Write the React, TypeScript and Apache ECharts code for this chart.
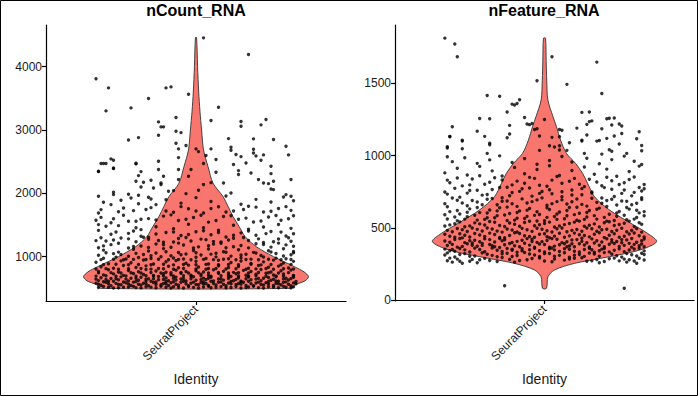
import React, { useEffect, useRef } from 'react';
import * as echarts from 'echarts';

const panelTitles = ['nCount_RNA', 'nFeature_RNA'];
const categoryName = 'SeuratProject';
const xTitle = 'Identity';
const countTicks = [1000, 2000, 3000, 4000];
const featureTicks = [0, 500, 1000, 1500];

// violin outlines: value levels and relative half-width (1 = widest)
const countLevels = [500, 553, 620, 684, 760, 842, 1000, 1158, 1316, 1474, 1632, 1790, 1947, 2159, 2421, 2685, 3000, 3300, 3600, 4000, 4460];
const countWidths = [0.85, 0.88, 0.97, 1.0, 0.96, 0.875, 0.69, 0.536, 0.437, 0.384, 0.33, 0.286, 0.241, 0.152, 0.107, 0.067, 0.05, 0.035, 0.024, 0.014, 0.005];
const featureLevels = [81, 161, 208, 254, 300, 346, 404, 461, 531, 623, 715, 808, 877, 946, 1015, 1108, 1200, 1269, 1385, 1522, 1650, 1813];
const featureWidths = [0.018, 0.031, 0.09, 0.27, 0.58, 0.85, 1.0, 0.92, 0.77, 0.58, 0.446, 0.384, 0.34, 0.277, 0.196, 0.143, 0.107, 0.076, 0.03, 0.02, 0.015, 0.009];

// jittered cells: pairs of [x offset in hundredths of a category, value]
const countPoints = [
  3,4455, 21,4192, -40,3808, -35,3665, -12,3665, -10,3681, -19,3496, -3,3564, -36,3302, -26,3349, 9,3359, -8,3196, 6,3149, 18,3133, 18,3059, 28,3165, 26,3081, -15,3128, -14,3049, -13,3049, -8,2980, -6,2959, -15,2917, -27,2843, -23,2880, 13,2864, 23,2860, 31,2849, -8,2790, -4,2754, -7,2702, 0,2702, 1,2659, 6,2702, 14,2727, 14,2680, 23,2695, 36,2743, 37,2607, -7,2564, 4,2596, 16,2612, 18,2580, 24,2591, 27,2607, -34,2544, 8,2533,
  -38,2470, -37,2470, -36,2470, -39,2343, -33,2522, -33,2390, -33,2016, -24,2474, -22,2343, -23,2280, -24,2190, -22,2101, -18,2206, -17,2085, -15,2506, -15,2375, -13,2269, -14,2164, 15,2454, 17,2359, 17,2296, 20,2480, 22,2322, 25,2217, 27,2164, 29,2153, 30,2427, 30,2311, 26,2522, 23,2638, 38,2217, 31,2190, 31,2059, 30,2069, 36,1980, 38,1953, 14,2006, 11,2164, 8,2332, 6,2169, 3,2138, 1,2048, -2,2375, -3,2269, -4,1995, -9,2043, -7,2217, -7,2375, -11,2032, 3,2470, -33,2401, -39,2348, -24,2465, -21,2174, -14,2138,
  -39,512, -35,518, -31,508, -27,522, -24,511, -20,526, -16,509, -12,517, -9,524, -5,506, -1,515, 3,521, 6,509, 10,527, 14,513, 18,505, 21,520, 25,511, 29,526, 33,508, 36,517, 39,523,
  -37,530, -33,505, -29,516, -25,531, -22,507, -18,519, -14,533, -10,504, -7,513, -3,528, 1,506, 5,532, 8,517, 12,508, 16,529, 20,512, 23,535, 27,504, 31,518, 35,531, 38,507,
  -38,548, -34,541, -30,556, -26,545, -22,552, -19,540, -14,558, -11,544, -7,550, -3,542, 1,557, 5,546, 8,553, 12,541, 16,559, 20,547, 23,540, 27,554, 31,545, 34,558, 38,542,
  -39,566, -35,572, -31,561, -27,569, -23,564, -20,574, -16,562, -12,571, -8,565, -4,573, 0,560, 3,568, 7,575, 11,563, 14,570, 18,566, 22,574, 26,561, 29,569, 33,572, 37,564, 40,570,
  -40,582, -36,594, -32,578, -28,589, -25,598, -21,581, -17,592, -13,576, -10,587, -6,597, -2,580, 2,591, 4,576, 9,595, 13,584, 17,577, 19,596, 24,583, 28,590, 32,579, 35,597, 39,586,
  -37,605, -33,611, -29,599, -24,607, -20,614, -16,601, -12,609, -9,603, -5,612, -1,598, 3,606, 6,613, 10,600, 14,608, 18,603, 21,611, 25,598, 29,607, 32,615, 36,602, 40,609,
  -39,622, -35,612, -31,634, -27,618, -23,629, -18,613, -15,637, -11,620, -8,631, -4,615, 0,627, 4,638, 7,616, 11,630, 15,621, 18,612, 22,636, 26,619, 30,628, 33,614, 37,633,
  -40,645, -36,641, -32,652, -28,647, -24,657, -20,643, -17,649, -13,641, -9,656, -6,646, -2,652, 2,641, 5,659, 9,648, 13,655, 16,640, 20,651, 24,645, 27,658, 31,642, 35,649, 38,654,
  -38,668, -34,654, -30,681, -26,660, -22,674, -19,652, -15,686, -12,663, -8,677, -5,655, -1,684, 3,661, 6,675, 10,650, 14,688, 17,664, 21,679, 25,657, 29,670, 32,684, 36,659, 39,676,
  -40,693, -36,698, -32,690, -28,697, -24,692, -20,699, -17,691, -13,696, -9,694, -5,700, -2,690, 2,697, 6,693, 10,698, 13,691, 17,696, 21,694, 24,699, 28,692, 32,697, 35,690, 39,695,
  -37,712, -33,728, -29,705, -25,735, -21,718, -17,702, -13,731, -10,714, -6,739, -2,708, 2,724, 5,703, 9,737, 13,716, 16,729, 20,706, 24,721, 28,738, 31,711, 35,726, 39,704,
  -39,744, -34,748, -30,741, -26,747, -22,743, -18,749, -14,741, -10,746, -6,750, -3,742, 1,747, 5,744, 9,749, 13,741, 17,746, 21,743, 25,750, 29,745, 33,742, 37,748,
  -39,768, -35,792, -31,757, -27,781, -23,763, -20,796, -16,773, -12,754, -8,787, -4,765, 0,779, 3,758, 7,794, 11,770, 15,752, 19,784, 22,766, 26,798, 30,759, 34,777, 38,790,
  -40,805, -36,811, -31,802, -27,808, -22,814, -18,803, -13,809, -9,801, -5,812, 0,806, 4,800, 8,813, 12,804, 16,810, 20,802, 24,807, 28,814, 31,801, 35,809, 39,804,
  -38,842, -33,818, -29,861, -24,830, -20,855, -15,812, -11,848, -7,826, -3,866, 1,836, 5,814, 9,857, 13,829, 17,845, 21,818, 25,862, 29,834, 33,851, 37,822,
  -37,874, -32,879, -27,871, -23,877, -18,872, -13,879, -9,870, -5,876, 0,873, 4,878, 9,871, 13,876, 17,874, 22,879, 26,870, 30,875, 34,872, 38,878,
  -40,912, -35,889, -30,934, -26,903, -21,946, -17,885, -12,921, -8,938, -4,897, 0,927, 5,884, 9,942, 14,908, 18,931, 22,893, 27,918, 31,945, 35,901, 39,926,
  -38,953, -33,958, -29,951, -25,957, -20,954, -15,959, -11,952, -7,956, -2,950, 3,957, 7,953, 11,958, 16,951, 20,955, 25,952, 29,958, 34,950, 38,956,
  -37,975, -32,993, -28,964, -23,986, -18,970, -14,998, -9,979, -5,962, 0,991, 4,972, 8,997, 13,966, 18,984, 22,961, 27,995, 32,977, 36,968,
  -39,1021, -33,1048, -27,1006, -21,1035, -16,1057, -10,1013, -4,1042, 2,1025, 8,1054, 14,1009, 20,1039, 26,1018, 32,1051, 38,1030,
  -36,1062, -30,1033, -24,1052, -18,1015, -12,1078, -6,1029, 0,1061, 6,1040, 12,1070, 18,1026, 24,1057, 30,1074, 35,1011, 39,1060,
  -37,1103, -31,1072, -25,1118, -19,1088, -13,1127, -7,1066, -1,1097, 5,1121, 11,1079, 17,1110, 23,1068, 29,1092, 35,1125, 39,1083,
  -39,1142, -34,1190, -27,1137, -22,1167, -16,1201, -10,1148, -5,1183, 1,1155, 7,1198, 12,1140, 18,1176, 24,1205, 30,1151, 36,1186,
  -37,1170, -31,1213, -25,1161, -19,1146, -13,1188, -7,1214, -1,1136, 5,1172, 10,1212, 15,1158, 21,1139, 27,1193, 33,1214, 39,1164,
  -40,1253, -36,1248, -30,1295, -24,1237, -19,1275, -13,1228, -7,1288, -2,1246, 4,1269, 10,1232, 15,1291, 21,1255, 27,1224, 33,1279, 38,1242,
  -38,1298, -33,1262, -27,1281, -21,1306, -15,1255, -9,1233, -4,1302, 2,1277, 7,1238, 13,1262, 19,1303, 25,1281, 31,1236, 37,1300,
  -34,1355, -27,1368, -22,1321, -19,1308, -12,1382, -6,1333, 0,1394, 6,1347, 12,1312, 18,1376, 24,1339, 30,1398, 36,1326, 39,1361,
  -39,1415, -32,1390, -25,1404, -16,1359, -9,1388, -3,1350, 3,1410, 9,1383, 15,1338, 21,1405, 28,1364, 34,1388,
  -39,1506, -36,1479, -34,1537, -31,1490, -22,1427, -24,1458, -16,1472, -9,1441, -3,1513, 3,1456, 9,1418, 15,1497, 21,1435, 27,1468, 33,1508, 38,1447,
  -27,1558, -24,1558, -38,1620, -19,1601, -13,1640, -7,1572, -1,1618, 5,1545, 11,1633, 17,1590, 23,1548, 29,1626, 34,1575, 39,1645,
  -40,1575, -33,1600, -29,1655, -22,1590, -16,1580, -10,1660, -4,1590, 2,1655, 8,1572, 14,1646, 20,1609, 26,1563, 32,1650, 37,1598,
  -39,1690, -31,1710, -20,1745, -12,1720, -6,1790, 0,1720, 6,1760, 12,1705, 19,1745, 24,1782, 30,1718, 36,1790,
  -38,1743, -34,1822, -29,1769, -25,1727, -23,1837, -18,1774, -16,1822, -9,1701, -3,1756, 3,1689, 9,1788, 15,1720, 21,1795, 27,1705, 33,1762, 38,1731,
  -37,1858, -30,1890, -27,1987, -39,1953, -33,1980, -26,1927, -23,1969, -19,1937, -18,1911, -12,1900, -6,1845, 0,1932, 6,1871, 12,1958, 18,1829, 24,1905, 30,1862, 35,1941, 39,1884,
];

const featurePoints = [
  -40,1813, -36,1772, -35,1684, 3,1684, 21,1647, -3,1518, 9,1493, 23,1430, -23,1416, -18,1411, -13,1356, -12,1350, -11,1360, -10,1386, -15,1301, -26,1257, -22,1255, -8,1264, -7,1218, -6,1214, -5,1222, 0,1250, -14,1209, -37,1199, -27,1169, -24,1133, -22,1086, -22,1075, -38,1133, -33,1107, -33,1100, -39,1052, -33,1047, -15,1123, -14,1149, -4,1180, -3,1186, -2,1135, 3,1126, 2,1068, 6,1068, 4,1059, 6,1130, 6,1180, 7,1175, -2,1036, 6,1038, 9,1036, 10,1089, 13,1190, 15,1299, 18,1301, 17,1216, 18,1235, 19,1240, 23,1185, 25,1255, 26,1258, 28,1260, 30,1218, 31,1205, 27,1211, 15,1107, 15,1100, 17,1142, 21,1100, 22,1104, 25,1119, 28,1135, 31,1153, 30,1080, 26,1040, 27,1030, 38,1165, 37,1116, 39,1070, 39,1033, 33,1015, 23,1010, 16,1015, -23,1015, -38,1130, -39,1061, -39,992,
  -40,512, -36,528, -32,507, -28,534, -24,519, -20,538, -16,509, -12,525, -8,537, -4,514, 0,530, 4,506, 8,522, 12,539, 16,511, 20,527, 24,535, 28,516, 32,531, 36,508, 39,524,
  -38,520, -34,541, -30,513, -26,527, -22,544, -18,516, -14,533, -10,510, -6,545, -2,521, 2,539, 6,513, 10,530, 14,546, 18,518, 22,505, 26,542, 30,523, 34,546, 38,535,
  -39,561, -35,548, -31,577, -27,553, -23,569, -19,584, -15,550, -11,566, -7,579, -3,547, 1,572, 5,558, 9,583, 13,552, 17,575, 21,560, 25,546, 29,580, 33,555, 37,571,
  -40,590, -36,575, -32,560, -28,587, -24,558, -20,570, -16,589, -12,553, -8,564, -4,586, 0,549, 4,578, 8,563, 12,591, 16,558, 20,584, 24,572, 28,551, 32,587, 36,560, 40,583,
  -38,612, -34,596, -30,631, -26,605, -22,623, -18,638, -14,599, -10,617, -6,634, -2,592, 2,626, 6,609, 10,640, 14,601, 18,619, 22,636, 26,594, 30,613, 34,629, 38,603,
  -39,645, -35,619, -31,608, -27,640, -23,602, -19,617, -15,643, -11,606, -7,622, -3,611, 1,638, 5,595, 9,620, 13,642, 17,606, 21,628, 25,647, 29,603, 33,640, 37,621, 40,612,
  -40,667, -35,690, -31,652, -27,678, -23,697, -19,660, -15,685, -11,648, -7,672, -3,693, 1,656, 5,681, 9,664, 13,699, 17,650, 21,676, 25,689, 29,658, 33,683, 37,670, 39,695,
  -37,706, -33,672, -29,689, -25,659, -21,703, -17,684, -13,666, -9,700, -5,681, -1,707, 3,667, 7,693, 11,680, 15,662, 19,705, 23,670, 27,698, 31,686, 35,659, 39,708,
  -39,733, -34,712, -30,758, -25,726, -21,765, -17,708, -13,744, -9,770, -5,719, -1,751, 3,736, 7,715, 11,762, 15,729, 19,748, 23,706, 27,767, 31,738, 35,721, 39,755,
  -40,748, -36,773, -31,740, -27,760, -23,731, -18,779, -14,722, -10,752, -6,776, -2,738, 2,763, 7,749, 11,727, 15,771, 19,740, 24,778, 28,716, 32,761, 36,745, 40,770,
  -38,812, -33,790, -29,838, -24,801, -20,846, -15,781, -11,823, -6,849, -2,795, 3,830, 7,808, 12,842, 16,785, 21,817, 25,850, 30,799, 34,834, 38,779,
  -39,830, -35,845, -30,797, -26,860, -22,815, -17,831, -13,797, -8,808, -4,842, 1,788, 5,855, 10,822, 14,801, 18,836, 23,791, 27,826, 32,812, 36,851, 40,800,
  -40,880, -35,912, -31,866, -26,925, -21,894, -17,859, -12,918, -8,874, -3,903, 2,929, 6,862, 11,897, 16,921, 20,871, 25,906, 29,857, 34,889, 38,927,
  -37,958, -32,985, -27,946, -22,970, -18,998, -13,952, -8,979, -3,940, 2,966, 7,993, 11,955, 17,981, 22,943, 27,972, 32,996, 36,961, 39,938,
  -39,272, -35,283, -30,268, -26,279, -24,288, -19,266, -14,281, -10,274, -5,287, 0,270, 4,284, 8,276, 12,289, 17,268, 21,280, 26,285, 30,271, 34,278, 38,289, -37,262, 33,262,
  -38,290, -34,268, -29,281, -22,273, -17,294, -12,262, -7,279, -2,291, 3,265, 10,283, 15,292, 19,271, 24,266, 28,290, 32,283, 36,270, 40,277, -27,258, -33,255, 22,258, 37,254,
  -40,312, -36,298, -32,321, -28,305, -23,317, -19,299, -15,324, -11,308, -6,318, -2,301, 2,322, 6,309, 10,296, 14,315, 18,325, 22,303, 27,319, 31,297, 35,313, 39,323,
  -39,326, -34,315, -30,303, -25,327, -21,309, -17,320, -13,301, -8,329, -4,311, 0,321, 4,303, 8,327, 12,310, 16,302, 20,318, 24,328, 29,306, 33,322, 37,304, 40,315,
  -38,341, -34,356, -30,332, -26,349, -21,359, -17,336, -13,352, -9,340, -4,358, 0,333, 4,347, 8,355, 12,338, 16,350, 20,331, 24,357, 28,344, 32,335, 36,353, 40,340,
  -40,352, -36,337, -32,347, -28,359, -24,334, -19,344, -15,357, -11,331, -6,348, -2,341, 2,355, 6,336, 10,351, 14,332, 18,358, 22,341, 26,333, 30,354, 34,346, 38,358,
  -39,377, -35,366, -31,389, -27,372, -22,384, -18,363, -14,391, -10,369, -6,380, -2,388, 2,365, 6,383, 10,374, 14,390, 18,367, 22,379, 26,386, 30,370, 34,392, 38,376,
  -37,385, -33,371, -29,379, -25,392, -20,368, -16,382, -12,376, -8,393, -4,366, 0,384, 4,373, 8,389, 12,369, 16,381, 20,394, 24,368, 28,391, 32,378, 36,385, 40,368,
  -40,408, -36,419, -32,397, -28,414, -24,423, -20,401, -16,417, -11,406, -7,425, -3,399, 1,412, 5,421, 9,403, 13,418, 17,396, 21,410, 25,424, 29,405, 33,416, 37,400, 40,422,
  -38,400, -34,426, -30,411, -26,403, -22,418, -18,425, -13,398, -9,414, -5,420, -1,404, 3,425, 7,397, 11,416, 15,406, 19,423, 23,401, 27,418, 31,396, 35,426, 39,410,
  -38,441, -34,458, -30,436, -26,450, -22,463, -18,433, -14,447, -10,460, -6,439, -2,455, 2,431, 6,462, 10,444, 14,452, 18,437, 22,465, 26,448, 30,434, 34,457, 38,445,
  -40,455, -36,434, -32,448, -28,461, -24,440, -20,454, -16,431, -12,465, -8,445, -4,434, 0,458, 4,442, 8,435, 12,463, 16,446, 20,455, 24,432, 28,459, 32,441, 36,464, 40,436,
  -39,482, -35,495, -31,474, -27,489, -23,499, -19,477, -15,491, -11,471, -7,486, -3,497, 1,480, 5,493, 9,473, 13,488, 17,498, 21,476, 25,490, 29,483, 33,472, 37,494,
  -37,472, -33,487, -29,498, -25,478, -21,492, -17,470, -13,485, -9,496, -5,475, -1,490, 3,471, 7,499, 11,482, 15,476, 19,493, 23,486, 27,474, 31,497, 35,481, 39,470,
  -37,350, -29,395, -21,375, -13,345, -5,405, 3,360, 11,390, 19,348, 27,402, 35,366, -33,430, -25,378, -17,410, -9,355, 1,438, 9,368, 15,428, 23,352, 31,418, 39,388,
  -16,99, 32,81,
];

function toPairs(flat: number[]): number[][] {
  const out: number[][] = [];
  for (let i = 0; i < flat.length; i += 2) out.push([1 + flat[i] / 100, flat[i + 1]]);
  return out;
}

function violinSeries(levels: number[], widths: number[], axisIndex: number) {
  return {
    type: 'custom',
    xAxisIndex: axisIndex,
    yAxisIndex: axisIndex,
    silent: true,
    z: 1,
    data: [[1, levels[0]]],
    renderItem: (_params: any, api: any) => {
      const right = levels.map((v, i) => api.coord([1 + 0.45 * widths[i], v]));
      const left = levels.map((v, i) => api.coord([1 - 0.45 * widths[i], v])).reverse();
      return {
        type: 'polygon',
        shape: { points: right.concat(left), smooth: 0.3 },
        style: { fill: '#F8766D', stroke: '#333333', lineWidth: 0.9 },
      };
    },
  };
}

const textColor = '#1a1a1a';

function xAxisCfg(gridIndex: number) {
  return {
    type: 'value',
    gridIndex,
    min: 0.4,
    max: 1.6,
    name: xTitle,
    nameLocation: 'middle',
    nameGap: 71,
    nameTextStyle: { fontSize: 14, color: textColor, fontFamily: 'Liberation Sans' },
    axisLine: { show: true, lineStyle: { color: '#000', width: 1.2 } },
    axisTick: { show: true, customValues: [1], length: 4, lineStyle: { color: '#000', width: 1.2 } },
    axisLabel: {
      customValues: [1],
      formatter: () => categoryName,
      rotate: 45,
      margin: 6,
      fontSize: 12,
      color: textColor,
      fontFamily: 'Liberation Sans',
    },
    splitLine: { show: false },
  };
}

function yAxisCfg(gridIndex: number, min: number, max: number, ticks: number[]) {
  return {
    type: 'value',
    gridIndex,
    min,
    max,
    axisLine: { show: true, lineStyle: { color: '#000', width: 1.2 } },
    axisTick: { show: true, customValues: ticks, length: 4, lineStyle: { color: '#000', width: 1.2 } },
    axisLabel: {
      customValues: ticks,
      formatter: (v: number) => String(v),
      margin: 4,
      fontSize: 12,
      color: textColor,
      fontFamily: 'Liberation Sans',
    },
    splitLine: { show: false },
  };
}

export default function App() {
  const ref = useRef<HTMLDivElement>(null);
  useEffect(() => {
    if (!ref.current) return;
    const chart = echarts.init(ref.current, null, { renderer: 'svg' });
    chart.setOption({
      animation: false,
      backgroundColor: '#ffffff',
      grid: [
        { left: 46, top: 25, width: 300, height: 276 },
        { left: 395, top: 25, width: 299, height: 276 },
      ],
      xAxis: [xAxisCfg(0), xAxisCfg(1)],
      yAxis: [yAxisCfg(0, 300, 4658, countTicks), yAxisCfg(1, -7, 1904, featureTicks)],
      graphic: [
        { type: 'rect', shape: { x: 0.5, y: 0.5, width: 697, height: 395 }, style: { fill: 'none', stroke: '#000', lineWidth: 1 }, silent: true },
        { type: 'text', x: 196, y: 10, style: { text: panelTitles[0], textAlign: 'center', textVerticalAlign: 'middle', font: 'bold 16px "Liberation Sans"', fill: '#000' } },
        { type: 'text', x: 544, y: 10, style: { text: panelTitles[1], textAlign: 'center', textVerticalAlign: 'middle', font: 'bold 16px "Liberation Sans"', fill: '#000' } },
      ],
      series: [
        violinSeries(countLevels, countWidths, 0),
        violinSeries(featureLevels, featureWidths, 1),
        { type: 'scatter', xAxisIndex: 0, yAxisIndex: 0, data: toPairs(countPoints), symbolSize: 3.4, itemStyle: { color: '#000' }, z: 3, silent: true },
        { type: 'scatter', xAxisIndex: 1, yAxisIndex: 1, data: toPairs(featurePoints), symbolSize: 3.4, itemStyle: { color: '#000' }, z: 3, silent: true },
      ],
    });
    return () => chart.dispose();
  }, []);
  return (
    <div style={{ position: 'fixed', left: 0, top: 0, width: 698, height: 396, background: '#fff' }}>
      <div ref={ref} style={{ width: 698, height: 396 }} />
    </div>
  );
}
